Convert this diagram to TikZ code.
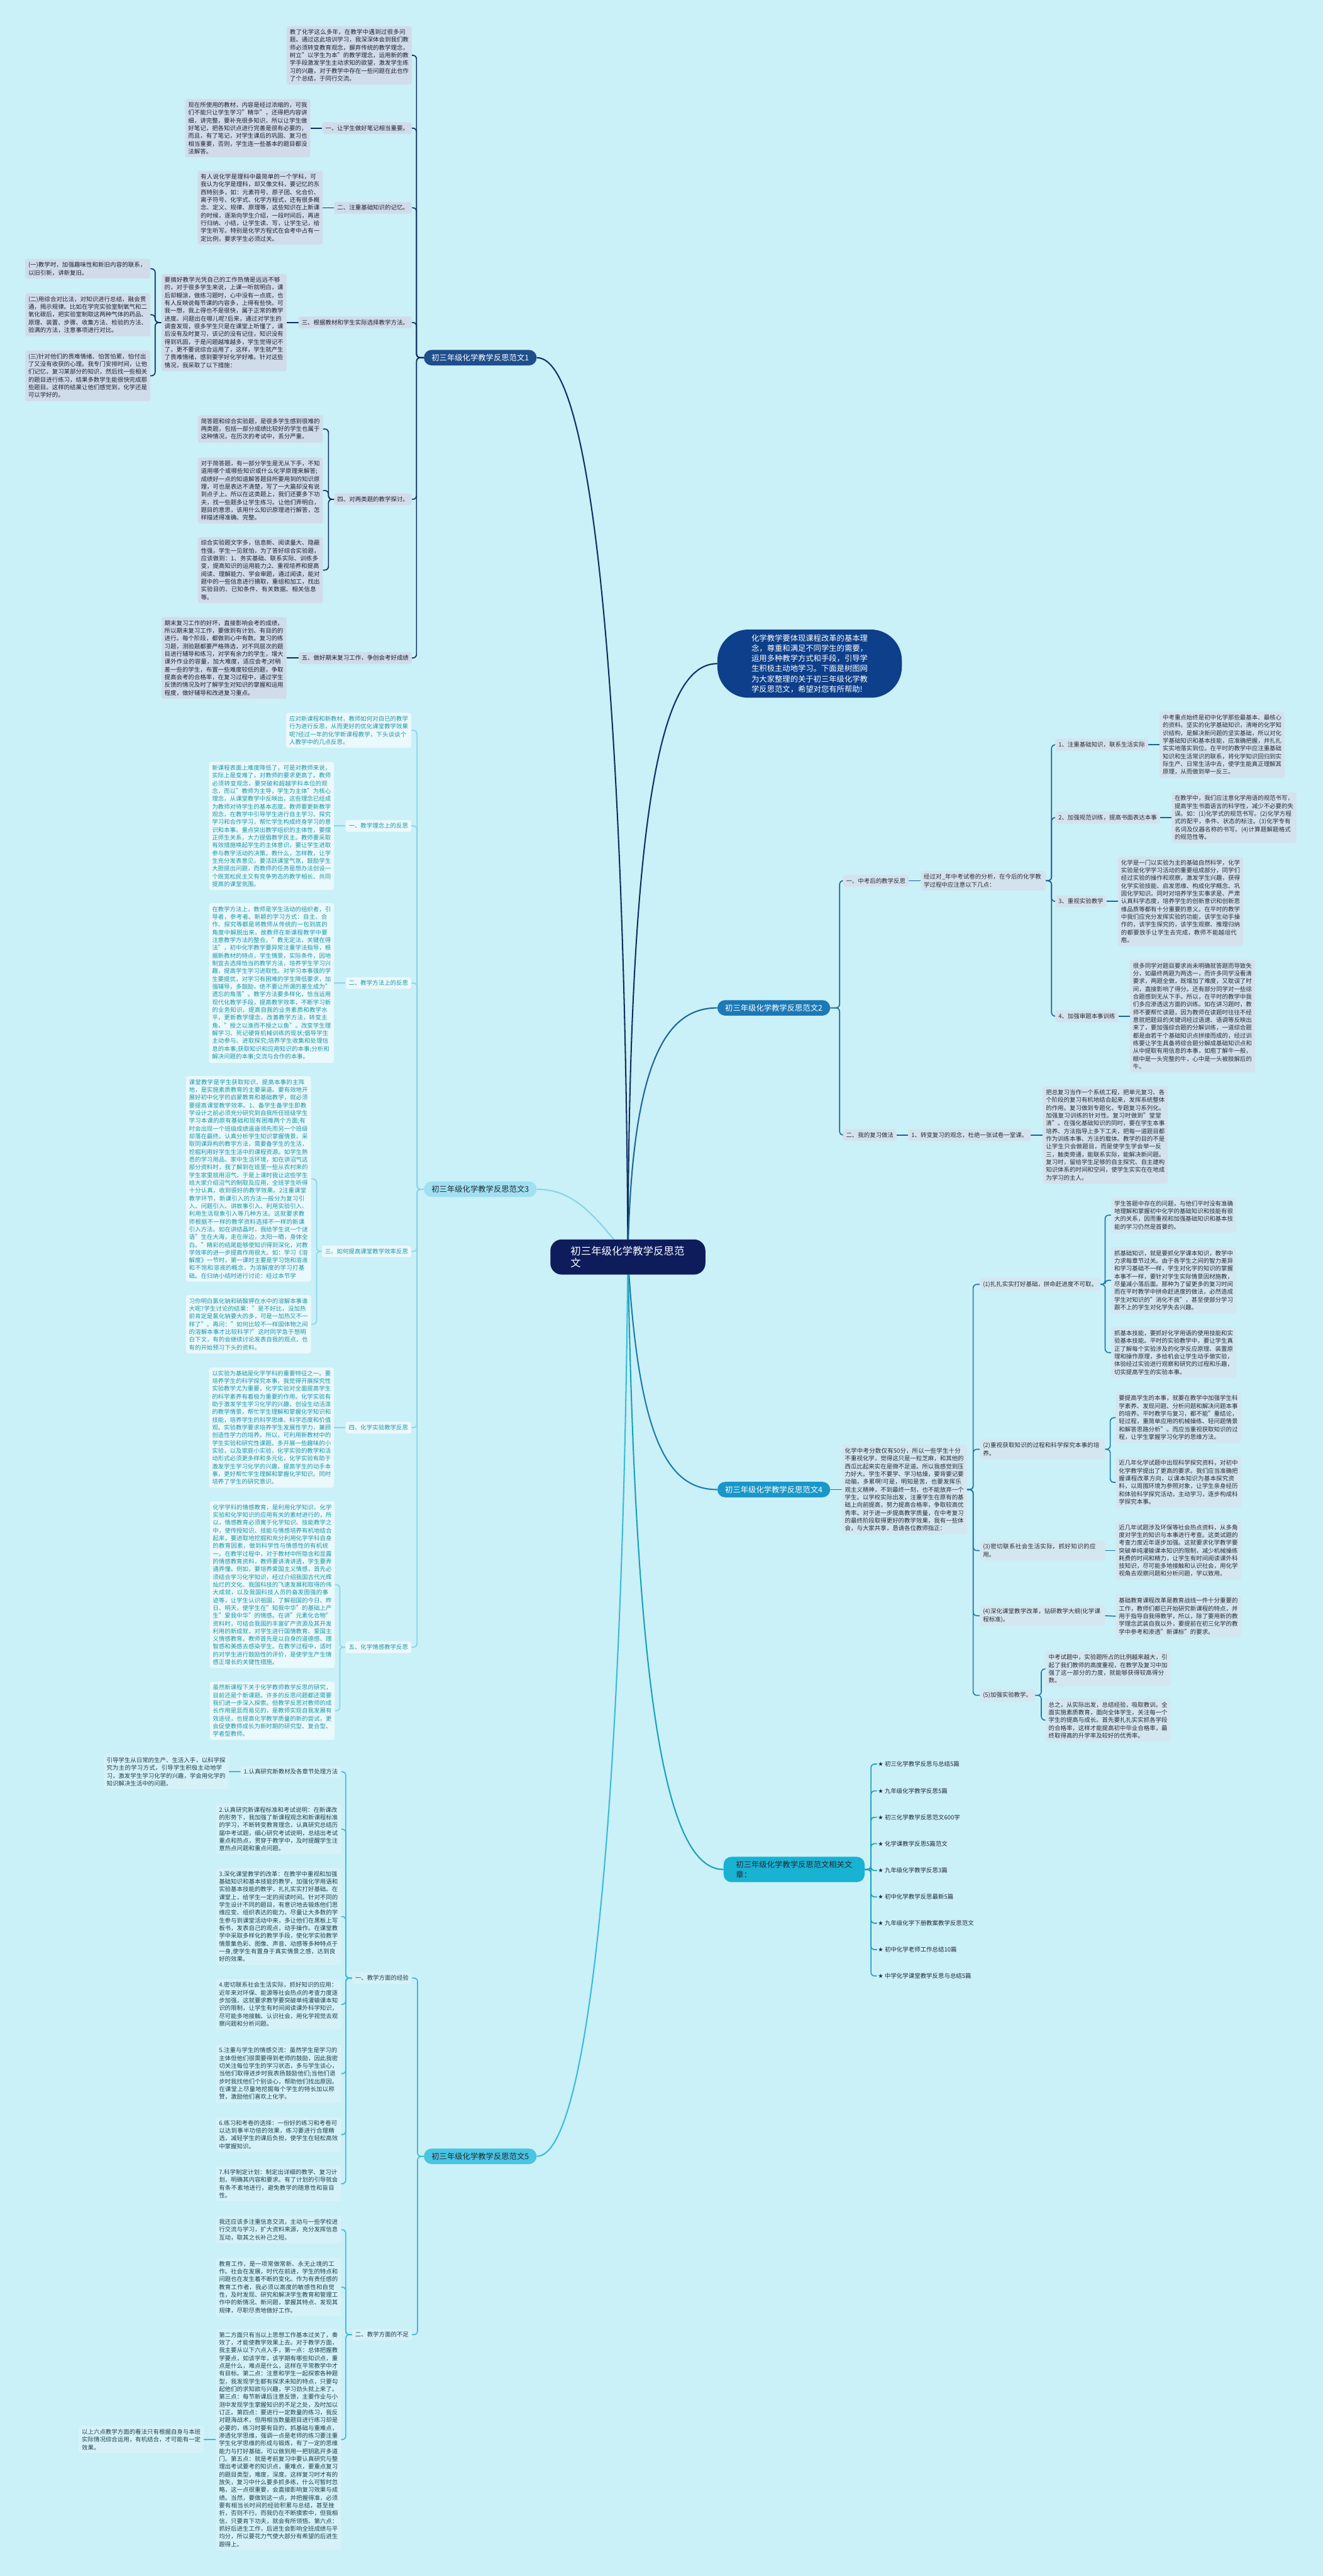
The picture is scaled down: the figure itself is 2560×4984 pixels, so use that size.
\documentclass[tikz,border=0pt]{standalone}
\usepackage{fontspec}
\setmainfont{Noto Sans CJK SC}
\newfontfamily\symf{DejaVu Sans}
\XeTeXlinebreaklocale "zh"
\XeTeXlinebreakskip=0pt plus 1pt
\usetikzlibrary{calc}
\pgfdeclarelayer{paper}\pgfdeclarelayer{back}
\pgfsetlayers{paper,back,main}
\definecolor{bgc}{RGB}{202,240,248}
\definecolor{centc}{RGB}{14,28,92}
\definecolor{bubc}{RGB}{13,63,138}
\definecolor{l1c}{RGB}{30,78,140}
\definecolor{ln1}{RGB}{14,45,94}
\definecolor{box1}{RGB}{209,220,234}
\definecolor{txt1}{RGB}{30,32,48}
\definecolor{l2c}{RGB}{27,121,182}
\definecolor{ln2}{RGB}{26,100,150}
\definecolor{box2}{RGB}{212,226,237}
\definecolor{txt2}{RGB}{40,44,55}
\definecolor{l3c}{RGB}{160,224,240}
\definecolor{ln3}{RGB}{135,212,232}
\definecolor{box3}{RGB}{234,249,252}
\definecolor{txt3}{RGB}{30,150,168}
\definecolor{l4c}{RGB}{25,152,200}
\definecolor{ln4}{RGB}{26,122,168}
\definecolor{box4}{RGB}{212,230,239}
\definecolor{l5c}{RGB}{24,178,210}
\definecolor{ln5}{RGB}{24,160,186}
\definecolor{l6c}{RGB}{72,197,227}
\definecolor{ln6}{RGB}{58,186,214}
\definecolor{box6}{RGB}{214,242,248}
\definecolor{txt6}{RGB}{28,66,80}
\definecolor{darkt}{RGB}{35,40,50}
\newcommand\connl[4]{\draw[#1, rounded corners=7pt] (#2.west) -- ++(-#4,0) |- (#3.east);}
\newcommand\connr[4]{\draw[#1, rounded corners=7pt] (#2.east) -- ++(#4,0) |- (#3.west);}
\tikzset{
  nbase/.style={font=\fontsize{11.5}{15}\selectfont, inner xsep=6pt, inner ysep=6pt, rounded corners=4pt, align=left},
  tbox/.style={nbase, text width=230pt},
  brl/.style={font=\fontsize{15}{19}\selectfont, inner xsep=15pt, inner ysep=8pt, rounded corners=15pt, align=left},
  c1/.style={fill=box1, text=txt1},
  c2/.style={fill=box2, text=txt2},
  c3/.style={fill=box3, text=txt3},
  c4/.style={fill=box4, text=txt2},
  c6/.style={fill=box6, text=txt6},
  k1/.style={draw=ln1, line width=2pt},
  k2/.style={draw=ln2, line width=2pt},
  k3/.style={draw=ln3, line width=2pt},
  k4/.style={draw=ln4, line width=2pt},
  k5/.style={draw=ln5, line width=2pt},
  k6/.style={draw=ln6, line width=2pt},
  itm/.style={font=\fontsize{11.5}{15}\selectfont, text=darkt, inner sep=2pt, anchor=west},
}
\begin{document}
\begin{tikzpicture}[x=1pt,y=-1pt]
\begin{pgfonlayer}{paper}
\fill[bgc] (0,0) rectangle (2560,4984);
\end{pgfonlayer}
\useasboundingbox (0,0) rectangle (2560,4984);

% ---------- centre and intro bubble
\node[fill=centc, text=white, font=\fontsize{20}{24}\selectfont, text width=222pt, align=left, minimum width=300pt, minimum height=68pt, rounded corners=22pt, inner sep=0pt] (C) at (1215,2432) {初三年级化学教学反思范文};
\node[anchor=west, fill=bubc, text=white, font=\fontsize{15}{19.7}\selectfont, text width=225pt, align=left, minimum width=357pt, minimum height=132pt, rounded corners=60pt, inner sep=0pt] (B) at (1388,1284) {化学教学要体现课程改革的基本理念，尊重和满足不同学生的需要，运用多种教学方式和手段，引导学生积极主动地学习。下面是树图网为大家整理的关于初三年级化学教学反思范文，希望对您有所帮助!};

% ---------- branch 1
\node[brl, fill=l1c, text=white, anchor=west] (L1) at (820,692) {初三年级化学教学反思范文1};
\node[tbox,c1,anchor=east] (T1i) at (797,107) {教了化学这么多年，在教学中遇到过很多问题。通过这此培训学习，我深深体会到我们教师必须转变教育观念，摒弃传统的教学理念，树立"以学生为本"的教学理念，运用新的教学手段激发学生主动求知的欲望，激发学生练习的兴趣，对于教学中存在一些问题在此也作了个总结，于同行交流。};
\node[nbase,c1,anchor=east] (L1a) at (797,248) {一、让学生做好笔记相当重要。};
\node[tbox,c1,anchor=east] (T1a) at ([xshift=-23pt]L1a.west) {现在所使用的教材，内容是经过浓缩的，可我们不能只让学生学习"精华"，还得把内容讲细，讲完整，要补充很多知识，所以让学生做好笔记，把各知识点进行完善是很有必要的，而且，有了笔记，对学生课后的巩固、复习也相当重要，否则，学生连一些基本的题目都没法解答。};
\node[nbase,c1,anchor=east] (L1b) at (797,402) {二、注重基础知识的记忆。};
\node[tbox,c1,anchor=east] (T1b) at ([xshift=-22pt]L1b.west) {有人说化学是理科中最简单的一个学科，可我认为化学是理科，却又像文科，要记忆的东西特别多，如：元素符号、原子团、化合价、离子符号、化学式、化学方程式，还有很多概念、定义、规律、原理等，这些知识在上新课的时候，逐渐向学生介绍，一段时间后，再进行归纳、小结，让学生读、写，让学生记，给学生听写。特别是化学方程式在会考中占有一定比例，要求学生必须过关。};
\node[nbase,c1,anchor=east] (L1c) at (797,624) {三、根据教材和学生实际选择教学方法。};
\node[tbox,c1,anchor=east] (T1c) at ([xshift=-23pt]L1c.west) {要搞好教学光凭自己的工作热情是远远不够的，对于很多学生来说，上课一听就明白，课后却糊涂，做练习题时，心中没有一点底，也有人反映说每节课的内容多，上得有些快。可我一想，我上得也不是很快，属于正常的教学进度。问题出在哪儿呢?后来，通过对学生的调查发现，很多学生只是在课堂上听懂了，课后没有及时复习，该记的没有记住，知识没有得到巩固，于是问题越堆越多，学生觉得记不了，更不要说综合运用了，这样，学生就产生了畏难情绪，感到要学好化学好难。针对这些情况，我采取了以下措施：};
\node[tbox,c1,anchor=east] (S1) at (291,520) {(一)教学时，加强趣味性和新旧内容的联系，以旧引新，讲新复旧。};
\node[tbox,c1,anchor=east] (S2) at (291,609) {(二)用综合对比法，对知识进行总结，融会贯通，揭示规律。比如在学完实验室制氧气和二氧化碳后，把实验室制取这两种气体的药品、原理、装置、步骤、收集方法、检验的方法、验满的方法，注意事项进行对比。};
\node[tbox,c1,anchor=east] (S3) at (291,727) {(三)针对他们的畏难情绪、怕苦怕累，怕付出了又没有收获的心理。我专门安排时间，让他们记忆，复习某部分的知识，然后找一些相关的题目进行练习，结果多数学生能很快完成那些题目。这样的结果让他们感觉到，化学还是可以学好的。};
\node[nbase,c1,anchor=east] (L1d) at (797,966) {四、对两类题的教学探讨。};
\node[tbox,c1,anchor=east] (T1d1) at (625,830) {简答题和综合实验题，是很多学生感到很难的两类题，包括一部分成绩比较好的学生也属于这种情况，在历次的考试中，丢分严重。};
\node[tbox,c1,anchor=east] (T1d2) at (625,949) {对于简答题，有一部分学生是无从下手，不知道用哪个或哪些知识或什么化学原理来解答;成绩好一点的知道解答题目所要用到的知识原理，可也是表达不清楚，写了一大篇却没有说到点子上。所以在这类题上，我们还要多下功夫，找一些题多让学生练习。让他们弄明白，题目的意思，该用什么知识原理进行解答，怎样描述得准确、完整。};
\node[tbox,c1,anchor=east] (T1d3) at (625,1103) {综合实验题文字多，信息新、阅读量大、隐蔽性强，学生一见就怕，为了答好综合实验题，应该做到：1、务实基础、联系实际、训练多变，提高知识的运用能力;2、重视培养和提高阅读、理解能力、学会审题，通过阅读，能对题中的一些信息进行摘取，重组和加工，找出实验目的、已知条件、有关数据、相关信息等。};
\node[nbase,c1,anchor=east] (L1e) at (797,1273) {五、做好期末复习工作，争创会考好成绩};
\node[tbox,c1,anchor=east] (T1e) at ([xshift=-23pt]L1e.west) {期末复习工作的好坏，直接影响会考的成绩，所以期末复习工作，要做到有计划、有目的的进行。每个阶段，都做到心中有数。复习的练习题，测验题都要严格筛选，对不同层次的题目进行辅导和练习，对学有余力的学生，增大课外作业的容量，加大难度，适应会考;对稍差一些的学生，布置一些难度较低的题，争取提高会考的合格率，在复习过程中，通过学生反馈的情况及时了解学生对知识的掌握和运用程度，做好辅导和改进复习重点。};

% ---------- branch 2
\node[brl, fill=l2c, text=white, anchor=west] (L2) at (1388,1950) {初三年级化学教学反思范文2};
\node[nbase,c2,anchor=west] (L2a) at (1631,1704) {一、中考后的教学反思};
\node[tbox,c2,anchor=west] (T2a) at ([xshift=23pt]L2a.east) {经过对\_年中考试卷的分析，在今后的化学教学过程中应注意以下几点：};
\node[nbase,c2,anchor=west] (L2a1) at (2042,1441) {1、注重基础知识，联系生活实际};
\node[tbox,c2,anchor=west] (T2a1) at ([xshift=22pt]L2a1.east) {中考重点始终是初中化学那些最基本、最核心的资料。坚实的化学基础知识，清晰的化学知识结构，是解决新问题的坚实基础，所以对化学基础知识和基本技能，应准确把握，并扎扎实实地落实到位。在平时的教学中应注重基础知识和生活常识的联系，将化学知识回归到实际生产、日常生活中去，使学生能真正理解其原理，从而做到举一反三。};
\node[nbase,c2,anchor=west] (L2a2) at (2042,1582) {2、加强规范训练，提高书面表达本事};
\node[tbox,c2,anchor=west] (T2a2) at ([xshift=22pt]L2a2.east) {在教学中，我们应注意化学用语的规范书写，提高学生书面语言的科学性，减少不必要的失误。如：(1)化学式的规范书写。(2)化学方程式的配平，条件、状态的标注。(3)化学专有名词及仪器名称的书写。(4)计算题解题格式的规范性等。};
\node[nbase,c2,anchor=west] (L2a3) at (2042,1744) {3、重视实验教学};
\node[tbox,c2,anchor=west] (T2a3) at ([xshift=22pt]L2a3.east) {化学是一门以实验为主的基础自然科学，化学实验是化学学习活动的重要组成部分，同学们经过实验的操作和观察，激发学生兴趣，获得化学实验技能、启发思维、构成化学概念、巩固化学知识。同时对培养学生实事求是、严肃认真科学态度，培养学生的创新意识和创新思维品质等都有十分重要的意义。在平时的教学中我们应充分发挥实验的功能，该学生动手操作的，该学生探究的，该学生观察、推理归纳的都要放手让学生去完成，教师不能越俎代庖。};
\node[nbase,c2,anchor=west] (L2a4) at (2042,1966) {4、加强审题本事训练};
\node[tbox,c2,anchor=west] (T2a4) at ([xshift=22pt]L2a4.east) {很多同学对题目要求尚未明确就答题而导致失分，如最终两题为两选一，而许多同学没看清要求，两题全做，既增加了难度，又耽误了时间，直接影响了得分。还有部分同学对一些综合题感到无从下手。所以，在平时的教学中我们多应渗透这方面的训练。如在讲习题时，教师不要帮忙读题，因为教师在读题时往往不经意就把题目的关键词经过语速、语调等反映出来了，要加强综合题的分解训练，一道综合题都是由若干个基础知识点拼接而成的，经过训练要让学生具备将综合题分解成基础知识点和从中提取有用信息的本事，如庖丁解牛一般，眼中是一头完整的牛，心中是一头被肢解后的牛。};
\node[nbase,c2,anchor=west] (L2b) at (1631,2196) {二、我的复习做法};
\node[nbase,c2,anchor=west] (L2b1) at ([xshift=22pt]L2b.east) {1、转变复习的观念，杜绝一张试卷一堂课。};
\node[tbox,c2,anchor=west] (T2b1) at ([xshift=23pt]L2b1.east) {把总复习当作一个系统工程，把单元复习、各个阶段的复习有机地结合起来，发挥系统整体的作用。复习做到专题化，专题复习系列化。加强复习训练的针对性。复习时做到"堂堂清"。在强化基础知识的同时，要在学生本事培养、方法指导上多下工夫，把每一道题目都作为训练本事、方法的载体。教学的目的不是让学生只会做题目，而是使学生学会举一反三，触类旁通，能联系实际，能解决新问题。复习时，留给学生足够的自主探究、自主建构知识体系的时间和空间，使学生实实在在地成为学习的主人。};

% ---------- branch 3
\node[brl, fill=l3c, text=darkt, anchor=west] (L3) at (820,2301) {初三年级化学教学反思范文3};
\node[tbox,c3,anchor=east] (T3i) at (796,1413) {应对新课程和新教材，教师如何对自已的教学行为进行反思，从而更好的优化课堂教学效果呢?经过一年的化学新课程教学，下头谈谈个人教学中的几点反思。};
\node[nbase,c3,anchor=east] (L3a) at (796,1598) {一、教学理念上的反思};
\node[tbox,c3,anchor=east] (T3a) at ([xshift=-22pt]L3a.west) {新课程表面上难度降低了，可是对教师来说，实际上是变难了，对教师的要求更高了。教师必须转变观念，要突破和超越学科本位的观念，而以"教师为主导，学生为主体"为核心理念，从课堂教学中反映出，这些理念已经成为教师对待学生的基本态度。教师要更新教学观念，在教学中引导学生进行自主学习、探究学习和合作学习，帮忙学生构成终身学习的意识和本事。重点突出教学组织的主体性，要摆正师生关系，大力提倡教学民主。教师要采取有效措施唤起学生的主体意识，要让学生进取参与教学活动的决策。教什么，怎样教，让学生充分发表意见，要活跃课堂气氛，鼓励学生大胆提出问题，而教师的任务是想办法创设一个既宽松民主又有竞争势态的教学相长、共同提高的课堂氛围。};
\node[nbase,c3,anchor=east] (L3b) at (796,1902) {二、教学方法上的反思};
\node[tbox,c3,anchor=east] (T3b) at ([xshift=-22pt]L3b.west) {在教学方法上，教师是学生活动的组织者，引导者，参考者。新颖的学习方式：自主、合作、探究等都是将教师从传统的一包到底的角度中解脱出来，故教师在新课程教学中要注意教学方法的整合。"教无定法，关键在得法"，初中化学教学要异常注重学法指导，根据新教材的特点，学生情景，实际条件，因地制宜去选择恰当的教学方法，培养学生学习兴趣，提高学生学习进取性。对学习本事强的学生要提优，对学习有困难的学生降低要求，加强辅导，多鼓励，绝不要让所谓的差生成为"遗忘的角落"。教学方法要多样化，恰当运用现代化教学手段，提高教学效率，不断学习新的业务知识，提高自我的业务素质和教学水平，更新教学理念，改善教学方法，转变主角，"授之以渔而不授之以鱼"。改变学生理解学习、死记硬背机械训练的现状;倡导学生主动参与、进取探究;培养学生收集和处理信息的本事;获取知识和应用知识的本事;分析和解决问题的本事;交流与合作的本事。};
\node[nbase,c3,anchor=east] (L3c) at (796,2421) {三、如何提高课堂教学效率反思};
\node[tbox,c3,anchor=east] (T3c1) at (602,2281) {课堂教学是学生获取知识，提高本事的主阵地，是实施素质教育的主要渠道。要有效地开展好初中化学的启蒙教育和基础教学，就必须要提高课堂教学效率。1、备学生备学生即教学设计之前必须充分研究到自我所任班级学生学习本课的原有基础和现有困难两个方面;有时会出现一个班级成绩遥遥领先而另一个班级却落在最终。认真分析学生知识掌握情景，采取同课异构的教学方法，需要备学生的生活，挖掘利用好学生生活中的课程资源。如学生熟悉的学习用品、家中生活环境，如在讲沼气这部分资料时，我了解到在班里一些从农村来的学生家里就用沼气，于是上课时我让这些学生给大家介绍沼气的制取及应用，全班学生听得十分认真，收到很好的教学效果。2注重课堂教学环节，新课引入的方法一般分为复习引入、问题引入、讲故事引入、利用实验引入、利用生活现象引入等几种方法。这就要求教师根据不一样的教学资料选择不一样的新课引入方法。如在讲结晶时，我给学生说一个谜语"生在大海，走在岸边，太阳一晒，身体全白。"精彩的结尾能够使知识得到深化，对教学效率的进一步提高作用很大。如：学习《溶解度》一节时，第一课时主要是学习饱和溶液和不饱和溶液的概念，为溶解度的学习打基础。在归纳小结时进行讨论：经过本节学};
\node[tbox,c3,anchor=east] (T3c2) at (602,2562) {习你明白氯化钠和硝酸钾在水中的溶解本事谁大呢?学生讨论的结果："是不好比，没加热前肯定是氯化钠要大的多，可是一加热又不一样了"。再问："如何比较不一样固体物之间的溶解本事才比较科学?"这时同学急于想明白下文，有的会继续讨论发表自我的观点，也有的开始预习下头的资料。};
\node[nbase,c3,anchor=east] (L3d) at (796,2762) {四、化学实验教学反思};
\node[tbox,c3,anchor=east] (T3d) at ([xshift=-22pt]L3d.west) {以实验为基础是化学学科的重要特征之一。要培养学生的科学探究本事，我觉得开展探究性实验教学尤为重要，化学实验对全面提高学生的科学素养有着极为重要的作用。化学实验有助于激发学生学习化学的兴趣，创设生动活泼的教学情景，帮忙学生理解和掌握化学知识和技能，培养学生的科学思维、科学态度和价值观。实验教学要求培养学生发展性学力，兼顾创造性学力的培养。所以，可利用新教材中的学生实验和研究性课题。多开展一些趣味的小实验，以及家庭小实验，化学实验的教学和活动形式必须更多样和多元化，化学实验有助于激发学生学习化学的兴趣，提高学生的动手本事，更好帮忙学生理解和掌握化学知识。同时培养了学生的研究意识。};
\node[nbase,c3,anchor=east] (L3e) at (796,3187) {五、化学情感教学反思};
\node[tbox,c3,anchor=east] (T3e1) at (648,3066) {化学学科的情感教育，是利用化学知识、化学实验和化学知识的应用有关的素材进行的，所以，情感教育必须寓于化学知识、技能教学之中，使传授知识、技能与情感培养有机地结合起来，要进取地挖掘和充分利用化学学科自身的教育因素，做到科学性与情感性的有机统一。在教学过程中，对于教材中所隐含和显露的情感教育资料，教师要讲清讲透，学生要弄通弄懂。例如，要培养爱国主义情感，首先必须结合学习化学知识，经过介绍我国古代光辉灿烂的文化、我国科技的飞速发展和取得的伟大成就，以及我国科技人员的奋发图强的事迹等，让学生认识祖国，了解祖国的今日、昨日、明天，使学生在"知我中华"的基础上产生"爱我中华"的情感。在讲"元素化合物"资料时，可结合我国的丰富矿产资源及其开发利用的新成就，对学生进行国情教育、爱国主义情感教育。教师首先是以自身的道德感、理智感和美感去感染学生。在教学过程中，适时的对学生进行鼓励性的评价，是使学生产生情感正增长的关键性措施。};
\node[tbox,c3,anchor=east] (T3e2) at (648,3310) {虽然新课程下关于化学教师教学反思的研究，目前还是个新课题。许多的反思问题都还需要我们进一步深入探索。但教学反思对教师的成长作用是显而易见的，是教师实现自我发展有效途径，也提高化学教学质量的新的尝试，更会促使教师成长为新时期的研究型、复合型、学者型教师。};

% ---------- branch 4
\node[brl, fill=l4c, text=white, anchor=west] (L4) at (1388,2882) {初三年级化学教学反思范文4};
\node[tbox,c4,anchor=west] (T4) at ([xshift=22pt]L4.east) {化学中考分数仅有50分，所以一些学生十分不重视化学，觉得这只是一粒芝麻，和其他的西瓜比起来实在是微不足道。所以我感觉到压力好大。学生不要学、学习枯燥，要背要记要动脑，多累啊!可是，明知是苦，也要发挥乐观主义精神，不到最终一刻，也不能放弃一个学生。以学校实际出发，注重学生在原有的基础上向前提高，努力提高合格率，争取较高优秀率。对于进一步提高教学质量，在中考复习的最终阶段取得更好的教学效果，我有一些体会，与大家共享，恳请各位教师指正：};
\node[nbase,c4,anchor=west] (L4a) at (1896,2485) {(1)扎扎实实打好基础，拼命赶进度不可取。};
\node[tbox,c4,anchor=west] (T4a1) at (2150,2351) {学生答题中存在的问题，与他们平时没有准确地理解和掌握初中化学的基础知识和技能有很大的关系，因而重视和加强基础知识和基本技能的学习仍然是首要的。};
\node[tbox,c4,anchor=west] (T4a2) at (2150,2477) {抓基础知识，就是要抓化学课本知识，教学中力求每章节过关。由于各学生之间的智力差异和学习基础不一样，学生对化学的知识的掌握本事不一样，要针对学生实际情景因材施教，尽量减小落后面。那种为了留更多的复习时间而在平时教学中拼命赶进度的做法，必然造成学生对知识的"消化不良"，甚至使部分学习跟不上的学生对化学失去兴趣。};
\node[tbox,c4,anchor=west] (T4a3) at (2150,2617) {抓基本技能，要抓好化学用语的使用技能和实验基本技能。平时的实验教学中，要让学生真正了解每个实验涉及的化学反应原理、装置原理和操作原理，多给机会让学生动手做实验，体验经过实验进行观察和研究的过程和乐趣，切实提高学生的实验本事。};
\node[tbox,c4,anchor=west] (L4b) at (1896,2804) {(2)重视获取知识的过程和科学探究本事的培养。};
\node[tbox,c4,anchor=west] (T4b1) at (2159,2743) {要提高学生的本事，就要在教学中加强学生科学素养、发现问题、分析问题和解决问题本事的培养。平时教学与复习，都不能"重结论，轻过程，重简单应用的机械操练、轻问题情景和解答思路分析"。而应当重视获取知识的过程，让学生掌握学习化学的思维方法。};
\node[tbox,c4,anchor=west] (T4b2) at (2159,2868) {近几年化学试题中出现科学探究资料，对初中化学教学提出了更高的要求。我们应当准确把握课程改革方向，以课本知识为基本探究资料，以周围环境为参照对象，让学生亲身经历和体验科学探究活动，主动学习，逐步构成科学探究本事。};
\node[tbox,c4,anchor=west] (L4c) at (1896,3000) {(3)密切联系社会生活实际，抓好知识的应用。};
\node[tbox,c4,anchor=west] (T4c) at (2159,3000) {近几年试题涉及环保等社会热点资料，从多角度对学生的知识与本事进行考查。这类试题的考查力度近年逐步加强。这就要求化学教学要突破单纯灌输课本知识的限制，减少机械操练耗费的时间和精力，让学生有时间阅读课外科技知识，尽可能多地接触和认识社会，用化学视角去观察问题和分析问题，学以致用。};
\node[tbox,c4,anchor=west] (L4d) at (1896,3126) {(4)深化课堂教学改革，钻研教学大纲(化学课程标准)。};
\node[tbox,c4,anchor=west] (T4d) at (2159,3127) {基础教育课程改革是教育战线一件十分重要的工作，教师们都已开始研究新课程的特点，并用于指导自我得教学，所以，除了要用新的教学理念武装自我以外，要提前在初三化学的教学中参考和渗透"新课标"的要求。};
\node[nbase,c4,anchor=west] (L4e) at (1896,3280) {(5)加强实验教学。};
\node[tbox,c4,anchor=west] (T4e1) at (2023,3229) {中考试题中，实验题所占的比例越来越大，引起了我们教师的高度重视，在教学及复习中加强了这一部分的力度，就能够获得较高得分数。};
\node[tbox,c4,anchor=west] (T4e2) at (2023,3328) {总之，从实际出发，总结经验，吸取教训。全面实施素质教育，面向全体学生，关注每一个学生的提高与成长。首先要扎扎实实抓各学段的合格率，这样才能提高初中毕业合格率，最终取得高的升学率及较好的优秀率。};

% ---------- branch 5
\node[brl, fill=l5c, text=darkt, anchor=west, text width=225pt, inner xsep=24pt] (L5) at (1400,3617) {初三年级化学教学反思范文相关文章：};
\node[itm] (I1) at (1697,3413) {{\symf ★} 初三化学教学反思与总结5篇};
\node[itm] (I2) at (1697,3465) {{\symf ★} 九年级化学教学反思5篇};
\node[itm] (I3) at (1697,3516) {{\symf ★} 初三化学教学反思范文600字};
\node[itm] (I4) at (1697,3567) {{\symf ★} 化学课教学反思5篇范文};
\node[itm] (I5) at (1697,3619) {{\symf ★} 九年级化学教学反思3篇};
\node[itm] (I6) at (1697,3670) {{\symf ★} 初中化学教学反思最新5篇};
\node[itm] (I7) at (1697,3721) {{\symf ★} 九年级化学下册教案教学反思范文};
\node[itm] (I8) at (1697,3772) {{\symf ★} 初中化学老师工作总结10篇};
\node[itm] (I9) at (1697,3823) {{\symf ★} 中学化学课堂教学反思与总结5篇};

% ---------- branch 6
\node[brl, fill=l6c, text=darkt, anchor=west] (L6) at (820,4172) {初三年级化学教学反思范文5};
\node[nbase,c6,anchor=east] (L6a) at (797,3827) {一、教学方面的经验};
\node[nbase,c6,anchor=east] (L6a1) at (660,3428) {1.认真研究新教材及各章节处理方法};
\node[tbox,c6,anchor=east] (T6a1) at ([xshift=-23pt]L6a1.west) {引导学生从日常的生产、生活入手，以科学探究为主的学习方式，引导学生积极主动地学习，激发学生学习化学的兴趣，学会用化学的知识解决生活中的问题。};
\node[tbox,c6,anchor=east] (T6a2) at (660,3539) {2.认真研究新课程标准和考试说明：在新课改的形势下，我加强了新课程观念和新课程标准的学习，不断转变教育理念，认真研究总结历届中考试题，细心研究考试说明，总结出考试重点和热点，贯穿于教学中，及时提醒学生注意热点问题和重点问题。};
\node[tbox,c6,anchor=east] (T6a3) at (660,3708) {3.深化课堂教学的改革：在教学中重视和加强基础知识和基本技能的教学，加强化学用语和实验基本技能的教学，扎扎实实打好基础。在课堂上，给学生一定的阅读时间。针对不同的学生设计不同的题目，有意识地去锻炼他们思维应变、组织表达的能力。尽量让大多数的学生参与到课堂活动中来，多让他们在黑板上写板书，发表自己的观点，动手操作。在课堂教学中采取多样化的教学手段，使化学实验教学情景集色彩、图像、声音、动感等多种特点于一身,使学生有置身于真实情景之感，达到良好的效果。};
\node[tbox,c6,anchor=east] (T6a4) at (660,3878) {4.密切联系社会生活实际，抓好知识的应用：近年来对环保、能源等社会热点的考查力度逐步加强，这就要求教学要突破单纯灌输课本知识的限制，让学生有时间阅读课外科学知识，尽可能多地接触、认识社会，用化学视觉去观察问题和分析问题。};
\node[tbox,c6,anchor=east] (T6a5) at (660,4012) {5.注重与学生的情感交流：虽然学生是学习的主体但他们很需要得到老师的鼓励，因此我密切关注每位学生的学习状态，多与学生谈心，当他们取得进步时我表扬鼓励他们;当他们退步时我找他们个别谈心，帮助他们找出原因。在课堂上尽量地挖掘每个学生的特长加以称赞，激励他们喜欢上化学。};
\node[tbox,c6,anchor=east] (T6a6) at (660,4130) {6.练习和考卷的选择：一份好的练习和考卷可以达到事半功倍的效果，练习要进行合理精选，减轻学生的课后负担，使学生在轻松高效中掌握知识。};
\node[tbox,c6,anchor=east] (T6a7) at (660,4225) {7.科学制定计划：制定出详细的教学、复习计划，明确其内容和要求。有了计划的引导就会有条不紊地进行，避免教学的随意性和盲目性。};
\node[nbase,c6,anchor=east] (L6b) at (797,4517) {二、教学方面的不足};
\node[tbox,c6,anchor=east] (T6b1) at (660,4314) {我还应该多注重信息交流，主动与一些学校进行交流与学习，扩大资料来源，充分发挥信息互动，取其之长补己之短。};
\node[tbox,c6,anchor=east] (T6b2) at (660,4425) {教育工作，是一项常做常新、永无止境的工作。社会在发展，时代在前进，学生的特点和问题也在发生着不断的变化。作为有责任感的教育工作者，我必须以高度的敏感性和自觉性，及时发现、研究和解决学生教育和管理工作中的新情况、新问题，掌握其特点、发现其规律，尽职尽责地做好工作。};
\node[tbox,c6,anchor=east] (T6b3) at (660,4720) {第二方面只有当以上思想工作基本过关了，奏效了，才能使教学效果上去。对于教学方面，我主要从以下六点入手，第一点：总体把握教学要点，如该学年，该学期有哪些知识点，重点是什么，难点是什么，这样在平常教学中才有目标。第二点：注意和学生一起探索各种题型，我发现学生都有探求未知的特点，只要勾起他们的求知欲与兴趣，学习劲头就上来了。第三点：每节新课后注意反馈，主要作业与小测中发现学生掌握知识的不足之处，及时加以订正。第四点：要进行一定数量的练习，我反对题海战术，但用相当数量题目进行练习却是必要的，练习时要有目的，抓基础与重难点，渗透化学思维，强调一点是老师的练习要注重学生化学思维的形成与锻炼，有了一定的思维能力与打好基础，可以做到用一把钥匙开多道门。第五点：就是考前复习中要认真研究与整理出考试要考的知识点，重难点，要重点复习的题目类型，难度，深度。这样复习时才有的放矢，复习中什么要多抓多练，什么可暂时忽略，这一点很重要，会直接影响复习效果与成绩。当然，要做到这一点，并把握得准，必须要有相当长时间的经验积累与总结，甚至挫折，否则不行。而我仍在不断摸索中，但我相信，只要肯下功夫，就会有所领悟。第六点：抓好后进生工作，后进生会影响全班成绩与平均分，所以要花力气使大部分有希望的后进生跟得上。};
\node[tbox,c6,anchor=east] (T6b3c) at ([xshift=-23pt]T6b3.west) {以上六点教学方面的看法只有根据自身与本班实际情况综合运用，有机结合，才可能有一定效果。};

% ---------- connectors
\begin{pgfonlayer}{back}
\draw[k1, line width=2.5pt] (C.center) .. controls (1217,1500) and (1290,1284) .. (B.west);
\draw[k1, line width=2.5pt] (C.center) .. controls (1212,1700) and (1175,692) .. (L1.east);
\draw[k2, line width=2.5pt] (C.center) .. controls (1222,2050) and (1290,1950) .. (L2.west);
\draw[k3, line width=2.5pt] (C.center) .. controls (1150,2350) and (1110,2301) .. (L3.east);
\draw[k4, line width=2.5pt] (C.center) .. controls (1235,2780) and (1290,2882) .. (L4.west);
\draw[k5, line width=2.5pt] (C.center) .. controls (1230,3300) and (1290,3617) .. (L5.west);
\draw[k6, line width=2.5pt] (C.center) .. controls (1205,3500) and (1140,4172) .. (L6.east);
% branch 1
\foreach \n in {T1i,L1a,L1b,L1c,L1d,L1e} {\connl{k1}{L1}{\n}{14}}
\draw[k1] (L1a.west) -- (T1a.east);
\draw[k1] (L1b.west) -- (T1b.east);
\draw[k1] (L1c.west) -- (T1c.east);
\draw[k1] (L1e.west) -- (T1e.east);
\foreach \n in {S1,S2,S3} {\connl{k1}{T1c}{\n}{12}}
\foreach \n in {T1d1,T1d2,T1d3} {\connl{k1}{L1d}{\n}{11}}
% branch 2
\foreach \n in {L2a,L2b} {\connr{k2}{L2}{\n}{18}}
\draw[k2] (L2a.east) -- (T2a.west);
\foreach \n in {L2a1,L2a2,L2a3,L2a4} {\connr{k2}{T2a}{\n}{11}}
\draw[k2] (L2a1.east) -- (T2a1.west);
\draw[k2] (L2a2.east) -- (T2a2.west);
\draw[k2] (L2a3.east) -- (T2a3.west);
\draw[k2] (L2a4.east) -- (T2a4.west);
\draw[k2] (L2b.east) -- (L2b1.west);
\draw[k2] (L2b1.east) -- (T2b1.west);
% branch 3
\foreach \n in {T3i,L3a,L3b,L3c,L3d,L3e} {\connl{k3}{L3}{\n}{13}}
\draw[k3] (L3a.west) -- (T3a.east);
\draw[k3] (L3b.west) -- (T3b.east);
\draw[k3] (L3d.west) -- (T3d.east);
\foreach \n in {T3c1,T3c2} {\connl{k3}{L3c}{\n}{10}}
\foreach \n in {T3e1,T3e2} {\connl{k3}{L3e}{\n}{11}}
% branch 4
\draw[k4] (L4.east) -- (T4.west);
\foreach \n in {L4a,L4b,L4c,L4d,L4e} {\connr{k4}{T4}{\n}{12}}
\foreach \n in {T4a1,T4a2,T4a3} {\connr{k4}{L4a}{\n}{9}}
\foreach \n in {T4b1,T4b2} {\connr{k4}{L4b}{\n}{10}}
\draw[k4] (L4c.east) -- (T4c.west);
\draw[k4] (L4d.east) -- (T4d.west);
\foreach \n in {T4e1,T4e2} {\connr{k4}{L4e}{\n}{12}}
% branch 5
\foreach \n in {I1,I2,I3,I4,I5,I6,I7,I8,I9} {\connr{k5}{L5}{\n}{12}}
% branch 6
\foreach \n in {L6a,L6b} {\connl{k6}{L6}{\n}{12}}
\foreach \n in {L6a1,T6a2,T6a3,T6a4,T6a5,T6a6,T6a7} {\connl{k6}{L6a}{\n}{12}}
\draw[k6] (L6a1.west) -- (T6a1.east);
\foreach \n in {T6b1,T6b2,T6b3} {\connl{k6}{L6b}{\n}{12}}
\draw[k6] (T6b3.west) -- (T6b3c.east);
\end{pgfonlayer}
\end{tikzpicture}
\end{document}
